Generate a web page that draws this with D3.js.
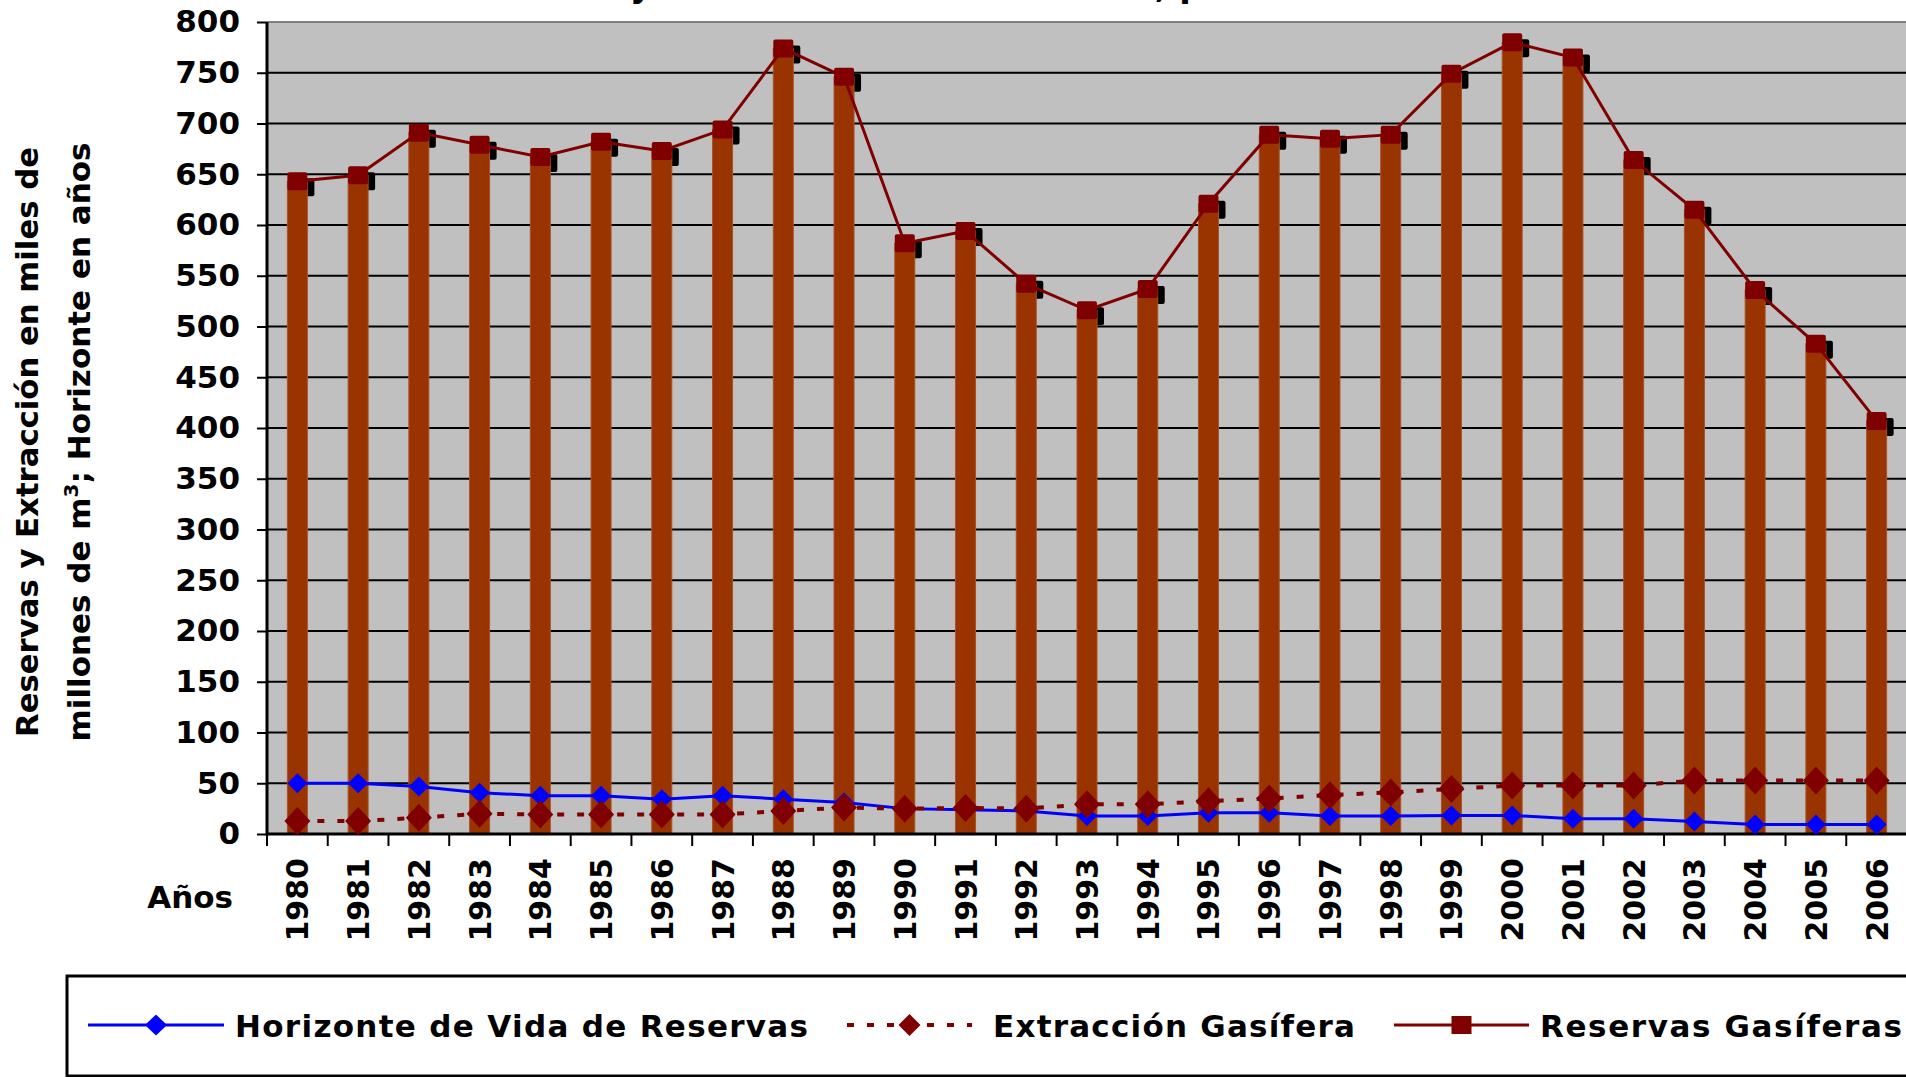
<!DOCTYPE html>
<html lang="es">

<head>
    <meta charset="UTF-8">
    <title>Reservas y Extracción de Gas Natural</title>
    <style>
        body {
            margin: 0;
            background: #fff;
            overflow: hidden;
        }

        text {
            font-family: "DejaVu Sans", Verdana, sans-serif;
            font-weight: bold;
            fill: #000;
        }

        .tick-label {
            font-size: 31px;
        }

        .grid line {
            stroke: #000;
            stroke-width: 2px;
        }

        .bar {
            fill: #993300;
            stroke: #a8522a;
            stroke-width: 1px;
        }

        .line-horizonte {
            fill: none;
            stroke: #0000ff;
            stroke-width: 3px;
        }

        .line-extraccion {
            fill: none;
            stroke: #800000;
            stroke-width: 4px;
            stroke-dasharray: 7, 13;
        }

        .line-reservas {
            fill: none;
            stroke: #800000;
            stroke-width: 3px;
        }
    </style>
</head>

<body>
    <script src="https://d3js.org/d3.v7.min.js"></script>
    <script>
        // data
        const years = ['1980', '1981', '1982', '1983', '1984', '1985', '1986', '1987', '1988', '1989',
            '1990', '1991', '1992', '1993', '1994', '1995', '1996', '1997', '1998', '1999',
            '2000', '2001', '2002', '2003', '2004', '2005', '2006'];
        const reservas = [643, 649, 691, 679, 667, 682, 673, 694, 774, 746,
            582, 594, 542, 516, 537, 621, 689, 685, 689, 749,
            780, 765, 664, 615, 536, 483, 407];
        const extraccion = [12.7, 12.7, 16, 20, 19.3, 19.3, 19.3, 19.3, 22.7, 26,
            25, 25.7, 25, 29.3, 29.3, 32.3, 35, 38.3, 41, 44.3,
            47.7, 47.7, 47.7, 52.7, 52.7, 52.7, 52.7];
        const horizonte = [50, 50, 46.7, 40.7, 37.7, 37.7, 34.3, 37.7, 34.3, 31,
            25, 24, 22.7, 17.7, 17.7, 21, 21, 17.7, 17.7, 18.3,
            18.3, 15, 15, 12.3, 9.3, 9.3, 9.3];
        const yTicks = d3.range(0, 801, 50);
        const title = 'Reservas y Extracción de Gas Natural, período 1980-2006';
        const yTitle = ['Reservas y Extracción en miles de', 'millones de m', '3', '; Horizonte en años'];
        const legendItems = [
            { label: 'Horizonte de Vida de Reservas', cls: 'line-horizonte', marker: 'diamond-blue' },
            { label: 'Extracción Gasífera', cls: 'line-extraccion', marker: 'diamond-red' },
            { label: 'Reservas Gasíferas', cls: 'line-reservas', marker: 'square' },
        ];

        const width = 1906;
        const height = 1077;
        const plot = { left: 267, right: 1907, top: 22, bottom: 834 };

        const xScale = d3.scaleBand()
            .domain(years)
            .range([plot.left, plot.right])
            .padding(0);
        const yScale = d3.scaleLinear()
            .domain([0, 800])
            .range([plot.bottom, plot.top]);
        const cx = d => xScale(d) + xScale.bandwidth() / 2;

        const svg = d3.select('body')
            .append('svg')
            .attr('width', width)
            .attr('height', height);

        // title, mostly cut off above the picture
        const titleText = svg.append('text')
            .attr('y', -3)
            .style('font-size', '31px')
            .text(title);
        {
            const node = titleText.node();
            const iy = title.indexOf(' y ') + 1;
            const ic = title.indexOf(',');
            const px = node.getStartPositionOfChar(iy).x;
            const pc = node.getStartPositionOfChar(ic).x;
            const k = (1155 - 630) / (pc - px);
            titleText.style('font-size', `${31 * k}px`)
                .attr('x', 630 - px * k);
        }

        // plot background
        svg.append('rect')
            .attr('x', plot.left)
            .attr('y', plot.top)
            .attr('width', plot.right - plot.left)
            .attr('height', plot.bottom - plot.top)
            .attr('fill', '#c0c0c0');

        // gridlines
        svg.append('g')
            .attr('class', 'grid')
            .selectAll('line')
            .data(yTicks.filter(d => d > 0 && d < 800))
            .enter().append('line')
            .attr('x1', plot.left)
            .attr('x2', plot.right)
            .attr('y1', d => yScale(d))
            .attr('y2', d => yScale(d));

        svg.append('line')
            .attr('x1', plot.left)
            .attr('x2', plot.right)
            .attr('y1', yScale(800))
            .attr('y2', yScale(800))
            .attr('stroke', '#808080')
            .attr('stroke-width', 2);

        // y axis
        const yAxis = svg.append('g')
            .attr('transform', `translate(${plot.left}, 0)`)
            .call(d3.axisLeft(yScale)
                .tickValues(yTicks)
                .tickSize(10)
                .tickPadding(17));
        yAxis.select('.domain').remove();
        yAxis.selectAll('.tick line')
            .attr('stroke', '#000')
            .attr('stroke-width', 2);
        yAxis.selectAll('text')
            .attr('class', 'tick-label')
            .attr('font-family', null)
            .attr('font-size', null)
            .attr('fill', '#000');

        // y axis title, two lines
        const yt = svg.append('text')
            .attr('transform', 'translate(38, 442) rotate(-90)')
            .attr('text-anchor', 'middle')
            .style('font-size', '31px');
        yt.append('tspan')
            .attr('x', 0)
            .attr('y', 0)
            .attr('textLength', 590)
            .attr('lengthAdjust', 'spacingAndGlyphs')
            .text(yTitle[0]);
        const yt2 = yt.append('tspan')
            .attr('x', 0)
            .attr('y', 52);
        yt2.append('tspan').text(yTitle[1]);
        yt2.append('tspan').attr('dy', -12).style('font-size', '20px').text(yTitle[2]);
        yt2.append('tspan').attr('dy', 12).text(yTitle[3]);
        {
            const w = yt2.node().getComputedTextLength();
            const k = 588 / w;
            yt2.attr('transform', `scale(${k}, 1)`)
                .attr('y', 52);
        }

        // bars: marker shadows sit behind the bars, squares on top
        const barW = 20;
        const markerShadow = svg.append('g');

        svg.append('g')
            .selectAll('rect')
            .data(years)
            .enter().append('rect')
            .attr('class', 'bar')
            .attr('x', d => cx(d) - barW / 2)
            .attr('width', barW)
            .attr('y', (d, i) => yScale(reservas[i]))
            .attr('height', (d, i) => yScale(0) - yScale(reservas[i]));

        markerShadow.selectAll('rect')
            .data(years)
            .enter().append('rect')
            .attr('x', d => cx(d) - 10 + 7)
            .attr('y', (d, i) => yScale(reservas[i]) - 9 + 6)
            .attr('width', 20)
            .attr('height', 18)
            .attr('rx', 2)
            .attr('fill', '#000');

        // x axis
        svg.append('line')
            .attr('x1', plot.left)
            .attr('x2', plot.right)
            .attr('y1', plot.bottom)
            .attr('y2', plot.bottom)
            .attr('stroke', '#000')
            .attr('stroke-width', 3);
        svg.append('line')
            .attr('x1', plot.left)
            .attr('x2', plot.left)
            .attr('y1', plot.top)
            .attr('y2', plot.bottom + 1.5)
            .attr('stroke', '#000')
            .attr('stroke-width', 3);

        svg.append('g')
            .selectAll('line')
            .data(years)
            .enter().append('line')
            .attr('x1', d => xScale(d))
            .attr('x2', d => xScale(d))
            .attr('y1', plot.bottom)
            .attr('y2', plot.bottom + 12)
            .attr('stroke', '#000')
            .attr('stroke-width', 2);

        svg.append('g')
            .selectAll('text')
            .data(years)
            .enter().append('text')
            .attr('class', 'tick-label')
            .attr('text-anchor', 'end')
            .style('font-size', '30px')
            .attr('transform', d => `translate(${cx(d) + 11}, 858) rotate(-90)`)
            .text(d => d);

        svg.append('text')
            .attr('class', 'tick-label')
            .attr('x', 233)
            .attr('y', 908)
            .attr('text-anchor', 'end')
            .text('Años');

        // lines
        const line = values => d3.line()
            .x(d => cx(d))
            .y((d, i) => yScale(values[i]))(years);

        const diamond = (x, y, w, h) => `M${x},${y - h / 2}L${x + w / 2},${y}L${x},${y + h / 2}L${x - w / 2},${y}Z`;

        svg.append('path')
            .attr('class', 'line-horizonte')
            .attr('d', line(horizonte));
        svg.append('g')
            .selectAll('path')
            .data(years)
            .enter().append('path')
            .attr('d', (d, i) => diamond(cx(d), yScale(horizonte[i]), 20, 20))
            .attr('fill', '#0000ff');

        svg.append('path')
            .attr('class', 'line-extraccion')
            .attr('d', line(extraccion));
        svg.append('g')
            .selectAll('path')
            .data(years)
            .enter().append('path')
            .attr('d', (d, i) => diamond(cx(d), yScale(extraccion[i]), 26, 28))
            .attr('fill', '#800000');

        svg.append('path')
            .attr('class', 'line-reservas')
            .attr('d', line(reservas));
        svg.append('g')
            .selectAll('rect')
            .data(years)
            .enter().append('rect')
            .attr('x', d => cx(d) - 10)
            .attr('y', (d, i) => yScale(reservas[i]) - 9)
            .attr('width', 20)
            .attr('height', 18)
            .attr('rx', 2)
            .attr('fill', '#800000');

        // legend
        svg.append('rect')
            .attr('x', 67)
            .attr('y', 976)
            .attr('width', 1900)
            .attr('height', 100)
            .attr('fill', '#fff')
            .attr('stroke', '#000')
            .attr('stroke-width', 3);

        const legendPos = [
            { x1: 88, x2: 224, text: 235, width: 573 },
            { x1: 847, x2: 972, text: 993, width: 362 },
            { x1: 1394, x2: 1529, text: 1540, width: 362 },
        ];
        const ly = 1025;
        legendItems.forEach((item, i) => {
            const p = legendPos[i];
            const mx = (p.x1 + p.x2) / 2;
            svg.append('line')
                .attr('class', item.cls)
                .attr('x1', p.x1)
                .attr('x2', p.x2)
                .attr('y1', ly)
                .attr('y2', ly);
            if (item.marker === 'diamond-blue') {
                svg.append('path').attr('d', diamond(mx, ly, 22, 21)).attr('fill', '#0000ff');
            } else if (item.marker === 'diamond-red') {
                svg.append('path').attr('d', diamond(mx, ly, 22, 22)).attr('fill', '#800000');
            } else {
                svg.append('rect')
                    .attr('x', mx - 10).attr('y', ly - 9)
                    .attr('width', 20).attr('height', 18)
                    .attr('fill', '#800000');
            }
            svg.append('text')
                .attr('x', p.text)
                .attr('y', ly + 12)
                .style('font-size', '31px')
                .attr('textLength', p.width)
                .attr('lengthAdjust', 'spacing')
                .text(item.label);
        });
    </script>
</body>

</html>
